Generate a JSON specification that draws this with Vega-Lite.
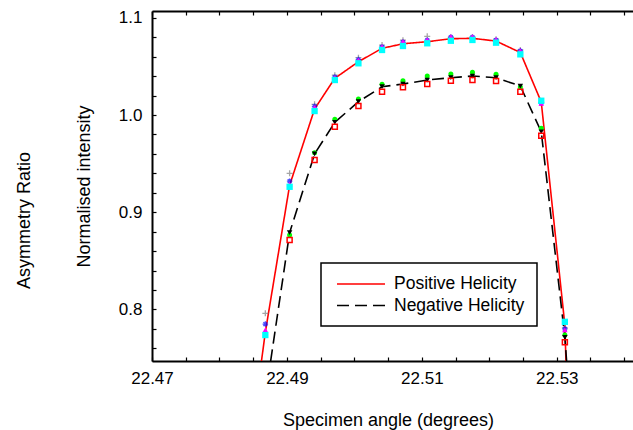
{
  "$schema": "https://vega.github.io/schema/vega-lite/v6.json",
  "width": 481,
  "height": 350,
  "autosize": {"type": "none"},
  "padding": {"left": 152, "top": 11, "right": 0, "bottom": 69},
  "background": "white",
  "config": {
    "view": {"stroke": null},
    "font": "Liberation Sans",
    "axis": {"labelFont": "Liberation Sans", "titleFont": "Liberation Sans", "labelColor": "black", "titleColor": "black", "grid": false, "titleFontWeight": "normal"},
    "legend": {"labelFont": "Liberation Sans"}
  },
  "data": {"values": [
    {"s": "Positive Helicity", "a": 22.4834, "v": 0.60},
    {"s": "Positive Helicity", "a": 22.4868, "v": 0.7767},
    {"s": "Positive Helicity", "a": 22.4904, "v": 0.9277},
    {"s": "Positive Helicity", "a": 22.4941, "v": 1.0062},
    {"s": "Positive Helicity", "a": 22.4971, "v": 1.0378},
    {"s": "Positive Helicity", "a": 22.5006, "v": 1.0548},
    {"s": "Positive Helicity", "a": 22.5041, "v": 1.0686},
    {"s": "Positive Helicity", "a": 22.5072, "v": 1.0733},
    {"s": "Positive Helicity", "a": 22.5108, "v": 1.0754},
    {"s": "Positive Helicity", "a": 22.5143, "v": 1.0785},
    {"s": "Positive Helicity", "a": 22.5175, "v": 1.0789},
    {"s": "Positive Helicity", "a": 22.5210, "v": 1.0761},
    {"s": "Positive Helicity", "a": 22.5246, "v": 1.0643},
    {"s": "Positive Helicity", "a": 22.5277, "v": 1.0134},
    {"s": "Positive Helicity", "a": 22.5312, "v": 0.7840},
    {"s": "Positive Helicity", "a": 22.5346, "v": 0.0},
    {"s": "Negative Helicity", "a": 22.4868, "v": 0.71},
    {"s": "Negative Helicity", "a": 22.4904, "v": 0.879},
    {"s": "Negative Helicity", "a": 22.4941, "v": 0.960},
    {"s": "Negative Helicity", "a": 22.4971, "v": 0.9925},
    {"s": "Negative Helicity", "a": 22.5006, "v": 1.0137},
    {"s": "Negative Helicity", "a": 22.5041, "v": 1.0291},
    {"s": "Negative Helicity", "a": 22.5072, "v": 1.0319},
    {"s": "Negative Helicity", "a": 22.5108, "v": 1.036},
    {"s": "Negative Helicity", "a": 22.5143, "v": 1.0384},
    {"s": "Negative Helicity", "a": 22.5175, "v": 1.0401},
    {"s": "Negative Helicity", "a": 22.5210, "v": 1.0384},
    {"s": "Negative Helicity", "a": 22.5246, "v": 1.0298},
    {"s": "Negative Helicity", "a": 22.5277, "v": 0.9828},
    {"s": "Negative Helicity", "a": 22.5312, "v": 0.7713},
    {"s": "Negative Helicity", "a": 22.5346, "v": 0.45},
    {"s": "gray", "a": 22.4868, "v": 0.796},
    {"s": "gray", "a": 22.4904, "v": 0.940},
    {"s": "gray", "a": 22.4941, "v": 1.011},
    {"s": "gray", "a": 22.4971, "v": 1.041},
    {"s": "gray", "a": 22.5006, "v": 1.059},
    {"s": "gray", "a": 22.5041, "v": 1.072},
    {"s": "gray", "a": 22.5072, "v": 1.077},
    {"s": "gray", "a": 22.5108, "v": 1.081},
    {"s": "gray", "a": 22.5143, "v": 1.080},
    {"s": "gray", "a": 22.5175, "v": 1.080},
    {"s": "gray", "a": 22.5210, "v": 1.078},
    {"s": "gray", "a": 22.5246, "v": 1.067},
    {"s": "gray", "a": 22.5277, "v": 1.013},
    {"s": "gray", "a": 22.5312, "v": 0.781},
    {"s": "blue", "a": 22.4868, "v": 0.785},
    {"s": "blue", "a": 22.4904, "v": 0.932},
    {"s": "blue", "a": 22.4941, "v": 1.009},
    {"s": "blue", "a": 22.4971, "v": 1.039},
    {"s": "blue", "a": 22.5006, "v": 1.057},
    {"s": "blue", "a": 22.5041, "v": 1.070},
    {"s": "blue", "a": 22.5072, "v": 1.075},
    {"s": "blue", "a": 22.5108, "v": 1.077},
    {"s": "blue", "a": 22.5143, "v": 1.080},
    {"s": "blue", "a": 22.5175, "v": 1.080},
    {"s": "blue", "a": 22.5210, "v": 1.077},
    {"s": "blue", "a": 22.5246, "v": 1.066},
    {"s": "blue", "a": 22.5277, "v": 1.012},
    {"s": "blue", "a": 22.5312, "v": 0.780},
    {"s": "magenta", "a": 22.4868, "v": 0.779},
    {"s": "magenta", "a": 22.4904, "v": 0.929},
    {"s": "magenta", "a": 22.4941, "v": 1.008},
    {"s": "magenta", "a": 22.4971, "v": 1.0386},
    {"s": "magenta", "a": 22.5006, "v": 1.0566},
    {"s": "magenta", "a": 22.5041, "v": 1.0703},
    {"s": "magenta", "a": 22.5072, "v": 1.0754},
    {"s": "magenta", "a": 22.5108, "v": 1.0772},
    {"s": "magenta", "a": 22.5143, "v": 1.0806},
    {"s": "magenta", "a": 22.5175, "v": 1.0806},
    {"s": "magenta", "a": 22.5210, "v": 1.0779},
    {"s": "magenta", "a": 22.5246, "v": 1.0662},
    {"s": "magenta", "a": 22.5277, "v": 1.012},
    {"s": "magenta", "a": 22.5312, "v": 0.779},
    {"s": "cyan", "a": 22.4868, "v": 0.7737},
    {"s": "cyan", "a": 22.4904, "v": 0.9262},
    {"s": "cyan", "a": 22.4941, "v": 1.0041},
    {"s": "cyan", "a": 22.4971, "v": 1.036},
    {"s": "cyan", "a": 22.5006, "v": 1.0532},
    {"s": "cyan", "a": 22.5041, "v": 1.0669},
    {"s": "cyan", "a": 22.5072, "v": 1.071},
    {"s": "cyan", "a": 22.5108, "v": 1.0738},
    {"s": "cyan", "a": 22.5143, "v": 1.0764},
    {"s": "cyan", "a": 22.5175, "v": 1.0772},
    {"s": "cyan", "a": 22.5210, "v": 1.0744},
    {"s": "cyan", "a": 22.5246, "v": 1.0624},
    {"s": "cyan", "a": 22.5277, "v": 1.0147},
    {"s": "cyan", "a": 22.5312, "v": 0.7873},
    {"s": "green", "a": 22.4904, "v": 0.8765},
    {"s": "green", "a": 22.4941, "v": 0.9612},
    {"s": "green", "a": 22.4971, "v": 0.9956},
    {"s": "green", "a": 22.5006, "v": 1.0165},
    {"s": "green", "a": 22.5041, "v": 1.0316},
    {"s": "green", "a": 22.5072, "v": 1.0353},
    {"s": "green", "a": 22.5108, "v": 1.0401},
    {"s": "green", "a": 22.5143, "v": 1.0422},
    {"s": "green", "a": 22.5175, "v": 1.0439},
    {"s": "green", "a": 22.5210, "v": 1.0419},
    {"s": "green", "a": 22.5246, "v": 1.0288},
    {"s": "green", "a": 22.5277, "v": 0.9863},
    {"s": "green", "a": 22.5312, "v": 0.7737},
    {"s": "black", "a": 22.4904, "v": 0.879},
    {"s": "black", "a": 22.4941, "v": 0.960},
    {"s": "black", "a": 22.4971, "v": 0.9925},
    {"s": "black", "a": 22.5006, "v": 1.0137},
    {"s": "black", "a": 22.5041, "v": 1.0291},
    {"s": "black", "a": 22.5072, "v": 1.0319},
    {"s": "black", "a": 22.5108, "v": 1.036},
    {"s": "black", "a": 22.5143, "v": 1.0384},
    {"s": "black", "a": 22.5175, "v": 1.0401},
    {"s": "black", "a": 22.5210, "v": 1.0384},
    {"s": "black", "a": 22.5246, "v": 1.0298},
    {"s": "black", "a": 22.5277, "v": 0.9828},
    {"s": "black", "a": 22.5312, "v": 0.7713},
    {"s": "redsq", "a": 22.4904, "v": 0.8714},
    {"s": "redsq", "a": 22.4941, "v": 0.9537},
    {"s": "redsq", "a": 22.4971, "v": 0.988},
    {"s": "redsq", "a": 22.5006, "v": 1.0093},
    {"s": "redsq", "a": 22.5041, "v": 1.024},
    {"s": "redsq", "a": 22.5072, "v": 1.0285},
    {"s": "redsq", "a": 22.5108, "v": 1.0319},
    {"s": "redsq", "a": 22.5143, "v": 1.0353},
    {"s": "redsq", "a": 22.5175, "v": 1.036},
    {"s": "redsq", "a": 22.5210, "v": 1.035},
    {"s": "redsq", "a": 22.5246, "v": 1.024},
    {"s": "redsq", "a": 22.5277, "v": 0.9787},
    {"s": "redsq", "a": 22.5312, "v": 0.7662}
  ]},
  "resolve": {"axis": {"x": "independent", "y": "independent"}},
  "layer": [
    {
      "transform": [{"filter": "datum.s == 'Positive Helicity' || datum.s == 'Negative Helicity'"}],
      "mark": {"type": "line", "clip": true, "strokeWidth": 1.6},
      "encoding": {
        "x": {"field": "a", "type": "quantitative",
          "scale": {"domain": [22.47, 22.5413], "nice": false, "zero": false},
          "axis": {"orient": "bottom", "values": [22.47, 22.475, 22.48, 22.485, 22.49, 22.495, 22.5, 22.505, 22.51, 22.515, 22.52, 22.525, 22.53, 22.535, 22.54],
            "labelExpr": "(round(datum.value*1000)-22470)%20==0 ? format(datum.value,'.2f') : ''",
            "labelFlush": false, "labelOverlap": false, "labelFontSize": 17, "labelPadding": 13,
            "tickSize": -4, "tickColor": "black", "tickWidth": 1.2,
            "domainColor": "black", "domainWidth": 2,
            "title": "Specimen angle (degrees)", "titleFontSize": 18, "titleX": 236, "titleY": 59, "titleBaseline": "middle", "titleAlign": "center"}},
        "y": {"field": "v", "type": "quantitative",
          "scale": {"domain": [0.747, 1.107], "nice": false, "zero": false},
          "axis": {"orient": "left", "values": [0.76, 0.78, 0.8, 0.82, 0.84, 0.86, 0.88, 0.9, 0.92, 0.94, 0.96, 0.98, 1.0, 1.02, 1.04, 1.06, 1.08, 1.1],
            "labelExpr": "round(datum.value*100)%10==0 ? format(datum.value,'.1f') : ''",
            "labelFlush": false, "labelOverlap": false, "labelFontSize": 17, "labelPadding": 14,
            "tickSize": -4, "tickColor": "black", "tickWidth": 1.2,
            "domainColor": "black", "domainWidth": 2,
            "title": "Normalised intensity", "titleFontSize": 18, "titleX": -68, "titleY": 175, "titleAngle": 270, "titleBaseline": "middle", "titleAlign": "center"}},
        "color": {"field": "s", "type": "nominal",
          "scale": {"domain": ["Positive Helicity", "Negative Helicity"], "range": ["#ff0000", "#000000"]},
          "legend": {"orient": "none", "legendX": 169, "legendY": 252, "title": null, "strokeColor": "black", "padding": 12, "symbolType": "M-3,0H3", "symbolSize": 256, "symbolStrokeWidth": 1.6, "symbolOffset": 19, "labelFontSize": 17.5, "labelOffset": 24, "rowPadding": 3.5, "fillColor": "white",
            "encode": {"legend": {"update": {"strokeWidth": {"value": 1.5}}}}}},
        "strokeDash": {"field": "s", "type": "nominal",
          "scale": {"domain": ["Positive Helicity", "Negative Helicity"], "range": [[1, 0], [12, 6]]},
          "legend": {"orient": "none", "legendX": 169, "legendY": 252, "title": null, "strokeColor": "black", "padding": 12, "symbolType": "M-3,0H3", "symbolSize": 256, "symbolStrokeWidth": 1.6, "symbolOffset": 19, "labelFontSize": 17.5, "labelOffset": 24, "rowPadding": 3.5, "fillColor": "white",
            "encode": {"legend": {"update": {"strokeWidth": {"value": 1.5}}}}}}
      }
    },
    {
      "transform": [{"filter": "datum.s == 'gray'"}],
      "mark": {"type": "point", "clip": true, "shape": "M-1,0H1M0,-1V1", "filled": false, "color": "#808080", "size": 36, "strokeWidth": 1.3},
      "encoding": {
        "x": {"field": "a", "type": "quantitative",
          "axis": {"orient": "top", "values": [22.47, 22.475, 22.48, 22.485, 22.49, 22.495, 22.5, 22.505, 22.51, 22.515, 22.52, 22.525, 22.53, 22.535, 22.54],
            "labels": false, "tickSize": -4, "tickColor": "black", "tickWidth": 1.2, "domainColor": "black", "domainWidth": 2, "title": null}},
        "y": {"field": "v", "type": "quantitative",
          "axis": {"orient": "left", "labels": false, "ticks": false, "domain": false,
            "title": "Asymmetry Ratio", "titleFontSize": 18, "titleX": -128, "titleY": 209, "titleAngle": 270, "titleBaseline": "middle", "titleAlign": "center"}}
      }
    },
    {
      "transform": [{"filter": "datum.s == 'blue'"}],
      "mark": {"type": "point", "clip": true, "shape": "M-1,0H1M0,-1V1M-0.7,-0.7L0.7,0.7M-0.7,0.7L0.7,-0.7", "filled": false, "color": "#0000ff", "size": 30, "strokeWidth": 1.3},
      "encoding": {
        "x": {"field": "a", "type": "quantitative", "axis": null},
        "y": {"field": "v", "type": "quantitative", "axis": null}
      }
    },
    {
      "transform": [{"filter": "datum.s == 'magenta'"}],
      "mark": {"type": "point", "clip": true, "shape": "triangle-up", "filled": true, "color": "#ff00ff", "size": 30, "opacity": 1},
      "encoding": {
        "x": {"field": "a", "type": "quantitative", "axis": null},
        "y": {"field": "v", "type": "quantitative", "axis": null}
      }
    },
    {
      "transform": [{"filter": "datum.s == 'cyan'"}],
      "mark": {"type": "point", "clip": true, "shape": "square", "filled": true, "color": "#00ffff", "size": 40, "opacity": 1},
      "encoding": {
        "x": {"field": "a", "type": "quantitative", "axis": null},
        "y": {"field": "v", "type": "quantitative", "axis": null}
      }
    },
    {
      "transform": [{"filter": "datum.s == 'green'"}],
      "mark": {"type": "point", "clip": true, "shape": "circle", "filled": true, "color": "#00ff00", "size": 25, "opacity": 1},
      "encoding": {
        "x": {"field": "a", "type": "quantitative", "axis": null},
        "y": {"field": "v", "type": "quantitative", "axis": null}
      }
    },
    {
      "transform": [{"filter": "datum.s == 'black'"}],
      "mark": {"type": "point", "clip": true, "shape": "triangle-down", "filled": true, "color": "#000000", "size": 30, "opacity": 1},
      "encoding": {
        "x": {"field": "a", "type": "quantitative", "axis": null},
        "y": {"field": "v", "type": "quantitative", "axis": null}
      }
    },
    {
      "transform": [{"filter": "datum.s == 'redsq'"}],
      "mark": {"type": "point", "clip": true, "shape": "square", "filled": false, "color": "#ff0000", "size": 25, "strokeWidth": 1.5, "opacity": 1},
      "encoding": {
        "x": {"field": "a", "type": "quantitative", "axis": null},
        "y": {"field": "v", "type": "quantitative", "axis": null}
      }
    }
  ]
}
